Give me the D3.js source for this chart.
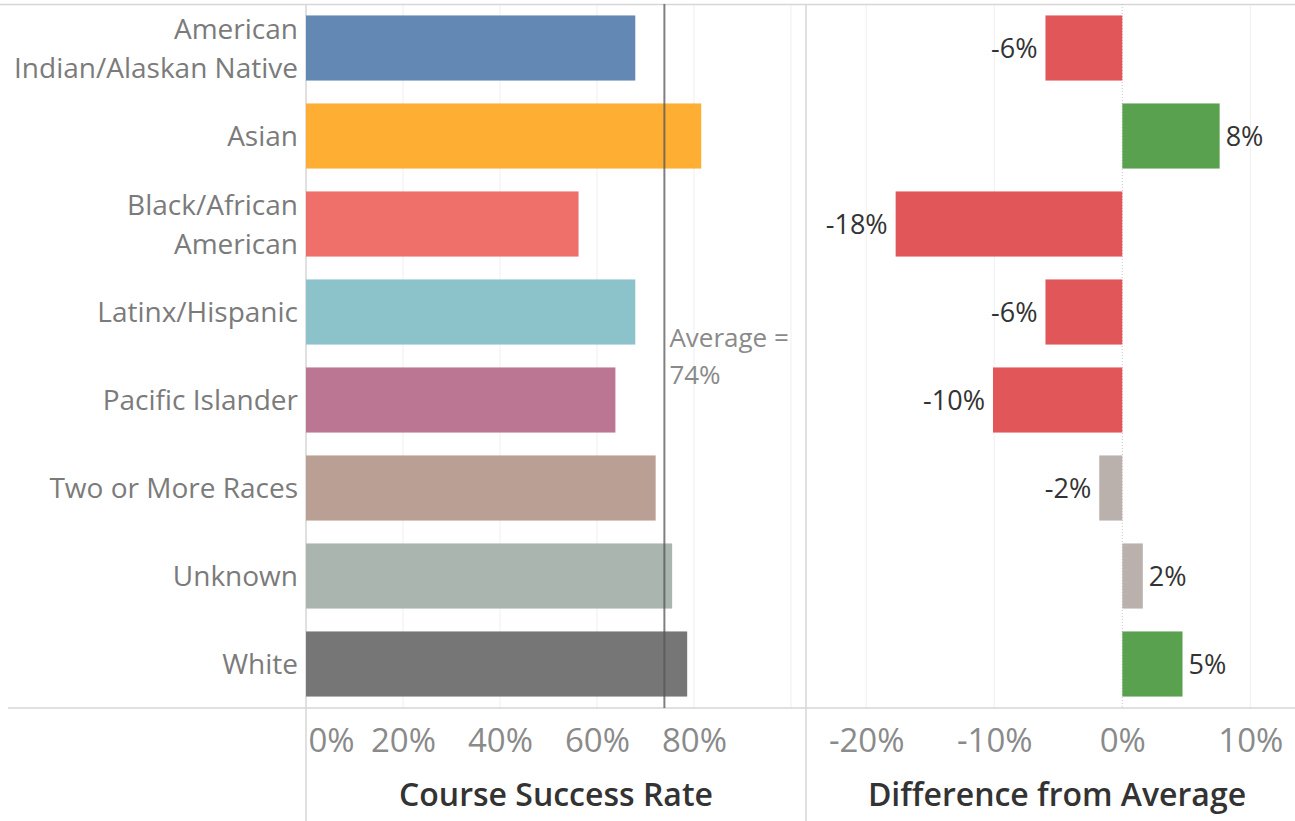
<!DOCTYPE html>
<html>
<head>
<meta charset="utf-8">
<script src="https://cdn.jsdelivr.net/npm/d3@7"></script>
<style>
  html, body { margin: 0; padding: 0; background: #fff; }
  svg { display: block; font-family: "Open Sans", sans-serif; }
</style>
</head>
<body>
<svg id="chart" width="1295" height="821"></svg>
<script>
// Course success rate by race/ethnicity
const categories = [
    'American Indian/Alaskan Native',
    'Asian',
    'Black/African American',
    'Latinx/Hispanic',
    'Pacific Islander',
    'Two or More Races',
    'Unknown',
    'White'
];
const successRate = [0.679, 0.815, 0.562, 0.679, 0.638, 0.721, 0.755, 0.786];
const averageRate = 0.739;
const rateTicks = [0, 0.2, 0.4, 0.6, 0.8];
const diffTicks = [-0.2, -0.1, 0, 0.1];

// difference from average, per category
const diffFromAvg = successRate.map(v => v - averageRate);

const W = 1295, H = 821;
const plotTop = 4, plotBottom = 708;
const leftPanel = [306, 806];
const rightPanel = [806, 1308];

const palette = ['#6388B4', '#FFAE34', '#EF6F6A', '#8CC2CA', '#BB7693', '#BAA094', '#A9B5AE', '#767676'];
const color = d3.scaleOrdinal(categories, palette);
const diffColor = d => d <= -0.03 ? '#E15759' : (d >= 0.03 ? '#59A14F' : '#BAB0AC');
const pct = d => Math.round(d * 100) + '%';

const svg = d3.select('#chart');

const y = d3.scaleBand()
    .domain(categories)
    .range([plotTop, plotBottom])
    .paddingInner(0.26)
    .paddingOuter(0.13);

const xRate = d3.scaleLinear().domain([0, 1.031]).range(leftPanel);
const xDiff = d3.scaleLinear().domain([-0.247, 0.145]).range(rightPanel);

// gridlines
const grid = svg.append('g').attr('class', 'grid');
grid.selectAll('line.gl')
    .data([0.2, 0.4, 0.6, 0.8, 1.0])
    .join('line')
    .attr('x1', d => xRate(d)).attr('x2', d => xRate(d))
    .attr('y1', plotTop).attr('y2', plotBottom)
    .style('stroke', '#efefef').style('stroke-width', 1);
grid.selectAll('line.gr')
    .data(diffTicks.filter(d => d !== 0))
    .join('line')
    .attr('x1', d => xDiff(d)).attr('x2', d => xDiff(d))
    .attr('y1', plotTop).attr('y2', plotBottom)
    .style('stroke', '#efefef').style('stroke-width', 1);

// frame lines
const frame = svg.append('g').style('stroke', '#d6d6d6').style('stroke-width', 1.5);
frame.append('line').attr('x1', 0).attr('x2', W).attr('y1', plotTop + 0.5).attr('y2', plotTop + 0.5);
frame.append('line').attr('x1', 8).attr('x2', W).attr('y1', plotBottom).attr('y2', plotBottom);
frame.append('line').attr('x1', leftPanel[0]).attr('x2', leftPanel[0]).attr('y1', plotTop).attr('y2', H);
frame.append('line').attr('x1', leftPanel[1]).attr('x2', leftPanel[1]).attr('y1', plotTop).attr('y2', H);

// zero line (right panel)
svg.append('line')
    .attr('x1', xDiff(0)).attr('x2', xDiff(0))
    .attr('y1', plotTop).attr('y2', plotBottom)
    .style('stroke', '#c8c8c8').style('stroke-width', 1)
    .style('stroke-dasharray', '1,2');

// left bars
svg.append('g').selectAll('rect')
    .data(categories)
    .join('rect')
    .attr('x', xRate(0))
    .attr('y', d => y(d))
    .attr('width', (d, i) => xRate(successRate[i]) - xRate(0))
    .attr('height', y.bandwidth())
    .style('fill', d => color(d));

// average reference line
const avgX = xRate(averageRate);
svg.append('line')
    .attr('x1', avgX).attr('x2', avgX)
    .attr('y1', plotTop).attr('y2', plotBottom)
    .style('stroke', '#555').style('stroke-opacity', 0.75).style('stroke-width', 2);

const avgLabel = svg.append('text')
    .attr('x', avgX + 5).attr('y', 347)
    .style('font-size', '26px').style('fill', '#8a8a8a');
avgLabel.append('tspan').attr('x', avgX + 5).text('Average =');
avgLabel.append('tspan').attr('x', avgX + 5).attr('dy', 37).text(pct(averageRate));

// right bars
svg.append('g').selectAll('rect')
    .data(categories)
    .join('rect')
    .attr('x', (d, i) => Math.min(xDiff(0), xDiff(diffFromAvg[i])))
    .attr('y', d => y(d))
    .attr('width', (d, i) => Math.abs(xDiff(diffFromAvg[i]) - xDiff(0)))
    .attr('height', y.bandwidth())
    .style('fill', (d, i) => diffColor(diffFromAvg[i]));

// value labels
svg.append('g').selectAll('text')
    .data(categories)
    .join('text')
    .attr('x', (d, i) => diffFromAvg[i] < 0 ? xDiff(diffFromAvg[i]) - 8 : xDiff(diffFromAvg[i]) + 6)
    .attr('y', d => y(d) + y.bandwidth() / 2)
    .attr('dy', '0.36em')
    .attr('text-anchor', (d, i) => diffFromAvg[i] < 0 ? 'end' : 'start')
    .style('font-size', '27px').style('fill', '#333')
    .text((d, i) => pct(diffFromAvg[i]));

// category labels, wrapped
const labelSize = 28, lineGap = 39, labelRight = 298, wrapWidth = 290;
const catLabels = svg.append('g').selectAll('text')
    .data(categories)
    .join('text')
    .attr('text-anchor', 'end')
    .style('font-size', labelSize + 'px').style('fill', '#7b7b7b');

catLabels.each(function (d) {
    const el = d3.select(this);
    const words = d.split(' ');
    const lines = [];
    let line = [];
    const probe = el.append('tspan');
    words.forEach(w => {
        const test = line.concat(w).join(' ');
        probe.text(test);
        if (probe.node().getComputedTextLength() > wrapWidth && line.length) {
            lines.push(line.join(' '));
            line = [w];
        } else {
            line.push(w);
        }
    });
    lines.push(line.join(' '));
    probe.remove();
    const cy = y(d) + y.bandwidth() / 2;
    lines.forEach((ln, k) => {
        el.append('tspan')
            .attr('x', labelRight)
            .attr('y', cy + (k - (lines.length - 1) / 2) * lineGap)
            .attr('dy', '0.36em')
            .text(ln);
    });
});

// axes
const axisRate = d3.axisBottom(xRate).tickValues(rateTicks).tickFormat(pct).tickSize(0).tickPadding(21);
const axisDiff = d3.axisBottom(xDiff).tickValues(diffTicks).tickFormat(pct).tickSize(0).tickPadding(21);

const gRate = svg.append('g').attr('transform', `translate(0,${plotBottom})`).call(axisRate);
const gDiff = svg.append('g').attr('transform', `translate(0,${plotBottom})`).call(axisDiff);
[gRate, gDiff].forEach(g => {
    g.select('.domain').remove();
    g.selectAll('text')
        .style('font-family', '"Open Sans", sans-serif')
        .style('font-size', '33px')
        .style('fill', '#8a8a8a');
});
// first label sits inside the pane
gRate.selectAll('.tick').filter(d => d === 0).select('text')
    .attr('text-anchor', 'start').attr('x', 2);

// axis titles
svg.append('text')
    .attr('x', (leftPanel[0] + leftPanel[1]) / 2).attr('y', 806)
    .attr('text-anchor', 'middle')
    .style('font-size', '32px').style('font-weight', 600).style('fill', '#333')
    .text('Course Success Rate');
svg.append('text')
    .attr('x', (rightPanel[0] + rightPanel[1]) / 2).attr('y', 806)
    .attr('text-anchor', 'middle')
    .style('font-size', '32px').style('font-weight', 600).style('fill', '#333')
    .text('Difference from Average');
</script>
</body>
</html>
